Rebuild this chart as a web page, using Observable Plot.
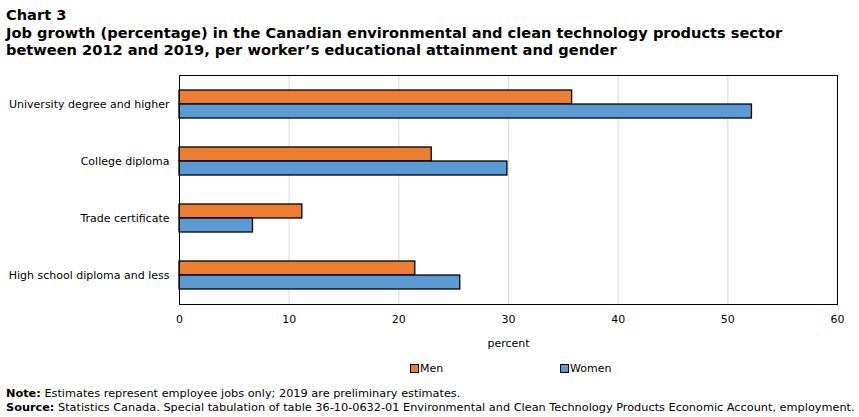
<!DOCTYPE html>
<html>
<head>
<meta charset="utf-8">
<script src="https://cdn.jsdelivr.net/npm/d3@7"></script>
<script src="https://cdn.jsdelivr.net/npm/@observablehq/plot@0.6"></script>
<style>
  body { margin: 0; background: #fff; font-family: "DejaVu Sans", Verdana, sans-serif; color: #000; }
  #title { padding: 6px 0 0 6px; height: 56px; font-weight: bold; font-size: 14.6px; line-height: 17.5px; }
  #legend { position: relative; height: 35px; font-size: 11px; }
  .item { position: absolute; top: 10px; display: flex; align-items: center; }
  .sw { width: 7px; height: 7px; border: 1px solid #000; margin-right: 1px; }
  #notes { padding-left: 6px; font-size: 11.3px; line-height: 13.5px; }
</style>
</head>
<body>
<div id="title">Chart 3<br>Job growth (percentage) in the Canadian environmental and clean technology products sector<br>between 2012 and 2019, per worker’s educational attainment and gender</div>
<div id="chart"></div>
<div id="legend"></div>
<div id="notes"><b>Note:</b> Estimates represent employee jobs only; 2019 are preliminary estimates.<br><b>Source:</b> Statistics Canada. Special tabulation of table 36-10-0632-01 Environmental and Clean Technology Products Economic Account, employment.</div>
<script>
const categories = ["University degree and higher", "College diploma", "Trade certificate", "High school diploma and less"];
const genders = ["Men", "Women"];
const menValues = [35.8, 23.0, 11.2, 21.5];
const womenValues = [52.2, 29.9, 6.7, 25.6];
const xTicks = [0, 10, 20, 30, 40, 50, 60];
const colors = ["#ED7D31", "#5B9BD5"];

const rows = categories.flatMap((c, i) => [
  {category: c, gender: "Men", value: menValues[i]},
  {category: c, gender: "Women", value: womenValues[i]}
]);

const W = 859, H = 290, mT = 13, mB = 48;
const pInner = 0.51, pOuter = 0.255;
const step = (H - mT - mB) / (categories.length - pInner + 2 * pOuter);
const bw = step * (1 - pInner);

const chart = Plot.plot({
  width: W, height: H,
  marginLeft: 179, marginRight: 22, marginTop: mT, marginBottom: mB,
  style: {fontFamily: "DejaVu Sans, Verdana, sans-serif", fontSize: "11px", color: "#000", background: "#fff"},
  x: {domain: [0, 60], ticks: xTicks, tickSize: 0, tickPadding: 11, label: "percent", labelAnchor: "center", labelOffset: 42, labelArrow: "none"},
  y: {domain: categories, paddingInner: pInner, paddingOuter: pOuter, tickSize: 0, tickPadding: 10, label: null},
  color: {domain: genders, range: colors},
  marks: [
    Plot.ruleX(xTicks.slice(1, -1), {stroke: "#d9d9d9", strokeWidth: 1}),
    Plot.barX(rows.filter(d => d.gender === "Men"), {x: "value", y: "category", fill: "gender", stroke: "#000", strokeWidth: 1.3, insetBottom: bw / 2}),
    Plot.barX(rows.filter(d => d.gender === "Women"), {x: "value", y: "category", fill: "gender", stroke: "#000", strokeWidth: 1.3, insetTop: bw / 2}),
    Plot.frame({stroke: "#000", strokeWidth: 1})
  ]
});
document.getElementById("chart").appendChild(chart);

const legend = document.getElementById("legend");
const legendX = [410, 560];
genders.forEach((g, i) => {
  const it = document.createElement("div");
  it.className = "item";
  it.style.left = legendX[i] + "px";
  it.innerHTML = `<span class="sw" style="background:${colors[i]}"></span><span>${g}</span>`;
  legend.appendChild(it);
});
</script>
</body>
</html>
